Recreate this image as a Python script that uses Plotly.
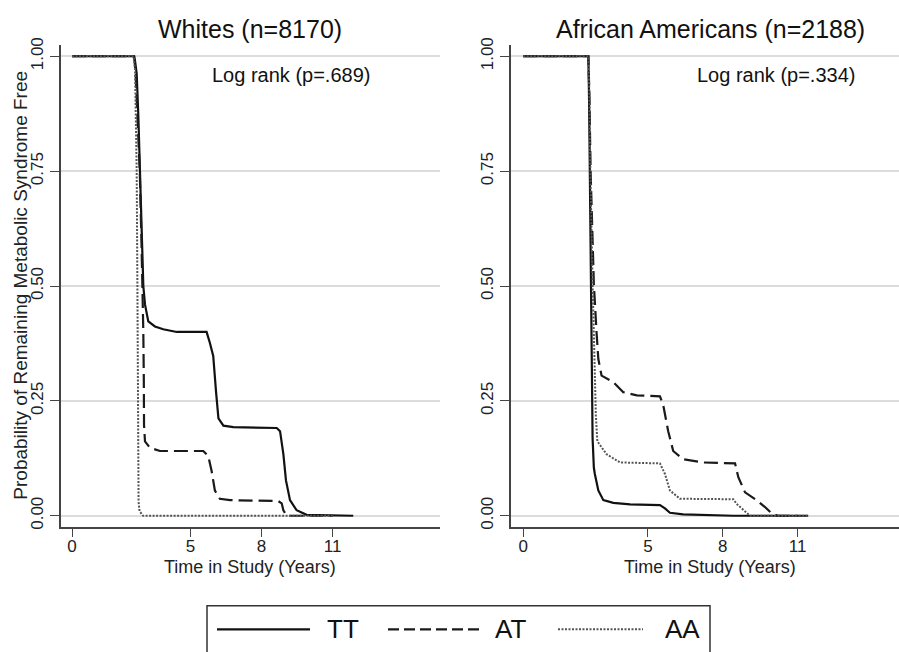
import plotly.graph_objects as go

# ---------------- data ----------------
groups = ["TT", "AT", "AA"]
panel_titles = ["Whites (n=8170)", "African Americans (n=2188)"]
logrank_labels = ["Log rank (p=.689)", "Log rank (p=.334)"]
x_tick_vals = [0, 5, 8, 11]
y_tick_vals = [0, 0.25, 0.5, 0.75, 1.0]
y_tick_text = ["0.00", "0.25", "0.50", "0.75", "1.00"]

# Whites
tt_w_time = [0, 2.62, 2.66, 2.73, 2.80, 2.87, 2.94, 3.01, 3.08, 3.16, 3.22, 3.50, 3.85, 4.42, 5.68,
             5.82, 5.96, 6.08, 6.18, 6.39, 6.81, 8.64, 8.78, 8.92, 9.03, 9.20, 9.48, 9.90, 11.87]
tt_w_surv = [1.0, 1.0, 0.99, 0.962, 0.869, 0.75, 0.606, 0.50, 0.46, 0.434, 0.423, 0.412, 0.406, 0.400, 0.400,
             0.376, 0.348, 0.269, 0.212, 0.196, 0.193, 0.191, 0.184, 0.134, 0.077, 0.034, 0.012, 0.002, 0.0]
at_w_time = [0, 2.62, 2.68, 2.75, 2.86, 2.93, 2.98, 3.01, 3.03, 3.04, 3.08, 3.29, 3.71, 5.54, 5.75,
             5.89, 6.03, 6.24, 6.67, 8.70, 8.85, 8.92, 9.06, 11.0]
at_w_surv = [1.0, 1.0, 0.97, 0.87, 0.75, 0.60, 0.50, 0.40, 0.30, 0.198, 0.162, 0.148, 0.141, 0.141, 0.130,
             0.098, 0.055, 0.037, 0.034, 0.032, 0.027, 0.012, 0.0, 0.0]
aa_w_time = [0, 2.60, 2.66, 2.71, 2.73, 2.76, 2.79, 2.80, 2.81, 2.85, 2.95, 3.0, 11.0]
aa_w_surv = [1.0, 1.0, 0.97, 0.85, 0.75, 0.50, 0.25, 0.10, 0.03, 0.01, 0.002, 0.0, 0.0]

# African Americans
tt_a_time = [0, 2.61, 2.64, 2.67, 2.74, 2.77, 2.78, 2.83, 2.87, 3.01, 3.21, 3.61, 4.28, 5.48,
             5.68, 5.88, 6.41, 8.42, 11.42]
tt_a_surv = [1.0, 1.0, 0.90, 0.75, 0.505, 0.30, 0.169, 0.105, 0.091, 0.055, 0.034, 0.028, 0.025, 0.023,
             0.016, 0.0065, 0.003, 0.0, 0.0]
at_a_time = [0, 2.61, 2.65, 2.70, 2.78, 2.83, 2.94, 3.01, 3.14, 3.61, 4.01, 4.55, 5.48, 5.61, 5.81,
             6.01, 6.41, 7.21, 8.49, 8.62, 8.89, 9.35, 9.69, 9.96, 10.2, 11.0]
at_a_surv = [1.0, 1.0, 0.92, 0.75, 0.60, 0.505, 0.398, 0.341, 0.305, 0.291, 0.269, 0.262, 0.260, 0.241, 0.184,
             0.141, 0.123, 0.116, 0.114, 0.084, 0.051, 0.034, 0.019, 0.005, 0.0, 0.0]
aa_a_time = [0, 2.61, 2.65, 2.69, 2.78, 2.83, 2.91, 2.97, 3.34, 3.88, 5.48, 5.68, 5.88, 6.28,
             8.42, 8.55, 8.82, 9.09, 11.42]
aa_a_surv = [1.0, 1.0, 0.92, 0.75, 0.505, 0.398, 0.219, 0.162, 0.134, 0.116, 0.114, 0.091, 0.055, 0.037,
             0.036, 0.026, 0.012, 0.0, 0.0]

# ---------------- styling ----------------
W, H = 899, 652
FONT = "Liberation Sans, Arial, Helvetica, sans-serif"
styles = {
    "TT": dict(color="#111111", width=2.2, dash="solid"),
    "AT": dict(color="#1a1a1a", width=2.2, dash="14px,6px"),
    "AA": dict(color="#555555", width=2.0, dash="2px,1.5px"),
}


def px_x(p):
    return p / W


def px_y(p):
    return 1 - p / H


fig = go.Figure()
series = [
    ("x", "y", [(tt_w_time, tt_w_surv), (at_w_time, at_w_surv), (aa_w_time, aa_w_surv)]),
    ("x2", "y2", [(tt_a_time, tt_a_surv), (at_a_time, at_a_surv), (aa_a_time, aa_a_surv)]),
]
for xa, ya, curves in series:
    for g, (t, s) in zip(groups, curves):
        fig.add_trace(go.Scatter(x=t, y=s, mode="lines", name=g, xaxis=xa, yaxis=ya,
                                 line=styles[g], showlegend=False, hoverinfo="skip"))

ydom = [px_y(527.3), px_y(38)]
yrange = [-0.0249, 1.0236]
common_x = dict(tickvals=x_tick_vals, ticks="outside", ticklen=8, tickwidth=1.3, tickcolor="#444",
                showgrid=False, zeroline=False, showline=True, linecolor="#444", linewidth=1.5,
                ticklabelstandoff=-5,
                tickfont=dict(family=FONT, size=17, color="#222"))
common_y = dict(tickvals=y_tick_vals, ticktext=y_tick_text, tickangle=-90, ticks="outside", ticklen=9,
                tickwidth=1.3, tickcolor="#444", showgrid=True, gridcolor="#dcdcdc", gridwidth=1.5,
                zeroline=False, showline=True, linecolor="#444", linewidth=1.5, range=yrange, domain=ydom,
                tickfont=dict(family=FONT, size=17, color="#222"))

fig.update_layout(
    width=W, height=H,
    margin=dict(l=0, r=0, t=0, b=0),
    paper_bgcolor="white", plot_bgcolor="white",
    font=dict(family=FONT, color="#111"),
    xaxis=dict(domain=[px_x(61), px_x(440)], range=[-0.464, 15.53], anchor="y", **common_x),
    yaxis=dict(anchor="x", **common_y),
    xaxis2=dict(domain=[px_x(511), 1.0], range=[-0.49, 15.06], anchor="y2", **common_x),
    yaxis2=dict(anchor="x2", **common_y),
)

ann = []
# panel titles
for title, cx in zip(panel_titles, [250, 710]):
    ann.append(dict(text=title, x=px_x(cx), y=px_y(21), xref="paper", yref="paper",
                    showarrow=False, xanchor="center", yanchor="middle",
                    font=dict(family=FONT, size=25, color="#111")))
# log rank
for lab, cx in zip(logrank_labels, [290.5, 775.5]):
    ann.append(dict(text=lab, x=px_x(cx), y=px_y(68), xref="paper", yref="paper",
                    showarrow=False, xanchor="center", yanchor="middle",
                    font=dict(family=FONT, size=20, color="#111")))
# x titles
for cx in [250, 710]:
    ann.append(dict(text="Time in Study (Years)", x=px_x(cx), y=px_y(568), xref="paper", yref="paper",
                    showarrow=False, xanchor="center", yanchor="middle",
                    font=dict(family=FONT, size=18, color="#222")))
# y title
ann.append(dict(text="Probability of Remaining Metabolic Syndrome Free", x=px_x(21), y=px_y(282),
                xref="paper", yref="paper", showarrow=False, textangle=-90,
                xanchor="center", yanchor="middle", font=dict(family=FONT, size=19, color="#222")))

# legend (drawn as a key box)
shapes = [dict(type="rect", xref="paper", yref="paper", x0=px_x(207), x1=px_x(710),
               y0=px_y(662), y1=px_y(607), line=dict(color="#333", width=1.5), fillcolor="white", layer="above")]
leg_lines = [(217, 310), (388, 480), (558, 643)]
leg_text_x = [325, 493, 663]
for g, (a, b), tx in zip(groups, leg_lines, leg_text_x):
    st = styles[g]
    shapes.append(dict(type="line", xref="paper", yref="paper", x0=px_x(a), x1=px_x(b),
                       y0=px_y(631), y1=px_y(631), layer="above",
                       line=dict(color=st["color"], width=st["width"],
                                 dash=("11px,5px" if g == "AT" else st["dash"]))))
    ann.append(dict(text=g, x=px_x(tx), y=px_y(631), xref="paper", yref="paper", showarrow=False,
                    xanchor="left", yanchor="middle", font=dict(family=FONT, size=26, color="#111")))

fig.update_layout(annotations=ann, shapes=shapes)
fig.write_html("out.html", config={"displayModeBar": False},
               post_script="document.body.style.margin='0';document.body.style.padding='0';")
